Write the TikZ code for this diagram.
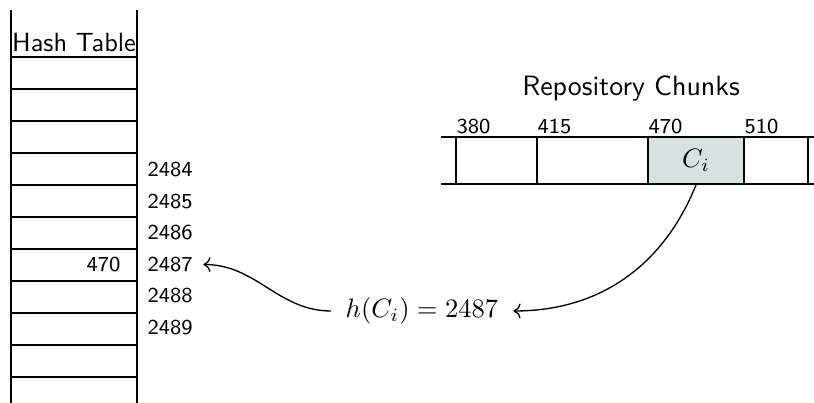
\documentclass[tikz,border=0pt]{standalone}
\usetikzlibrary{arrows.meta}
\definecolor{cifill}{HTML}{D6E2E0}
\begin{document}
\begin{tikzpicture}[x=0.376pt,y=-0.376pt,
  ln/.style={line width=0.6pt},
  numlbl/.style={font=\sffamily\footnotesize, inner sep=0pt},
  title/.style={font=\sffamily\fontsize{10.5}{12}\selectfont, inner sep=0pt},
  conn/.style={line width=0.5pt, ->}]
\useasboundingbox (0,0) rectangle (814,403);
% hash table
\draw[ln] (11,10) -- (11,403);
\draw[ln] (137,10) -- (137,403);
\foreach \y in {57,89,121,153,185,217,249,281,313,345,377}
  \draw[ln] (11,\y) -- (137,\y);
\node[title, font=\sffamily\fontsize{9.9}{12}\selectfont] (ht) at (74,43) {Hash Table};
\node[numlbl, anchor=east] (v470) at (121,265) {470};
\node[numlbl, anchor=west] (r2484) at (147,170) {2484};
\node[numlbl, anchor=west] (r2485) at (147,201.5) {2485};
\node[numlbl, anchor=west] (r2486) at (147,233) {2486};
\node[numlbl, anchor=west] (r2487) at (147,264.5) {2487};
\node[numlbl, anchor=west] (r2488) at (147,296) {2488};
\node[numlbl, anchor=west] (r2489) at (147,328) {2489};
% repository chunks
\node[title] (rc) at (631,89) {Repository Chunks};
\fill[cifill] (648,137) rectangle (744,184);
\draw[ln] (441,137) -- (814,137);
\draw[ln] (441,184) -- (814,184);
\foreach \x in {456,537,648,744,808}
  \draw[ln] (\x,137) -- (\x,184);
\node[inner sep=0pt] (ci) at (696,160.5) {$C_i$};
\coordinate (cibot) at (696,185);
\node[numlbl, anchor=base west] (c380) at (456,134) {380};
\node[numlbl, anchor=base west] (c415) at (537,134) {415};
\node[numlbl, anchor=base west] (c470) at (648,134) {470};
\node[numlbl, anchor=base west] (c510) at (744,134) {510};
% hash node
\node[inner sep=0pt] (h) at (422,311) {$h(C_i) = 2487$};
\draw[conn] (cibot) to[out=-112,in=0] ([xshift=5.5pt]h.east);
\draw[conn] ([xshift=-5.3pt]h.west) to[out=180,in=0] ([xshift=3.8pt]r2487.east);
\end{tikzpicture}
\end{document}
